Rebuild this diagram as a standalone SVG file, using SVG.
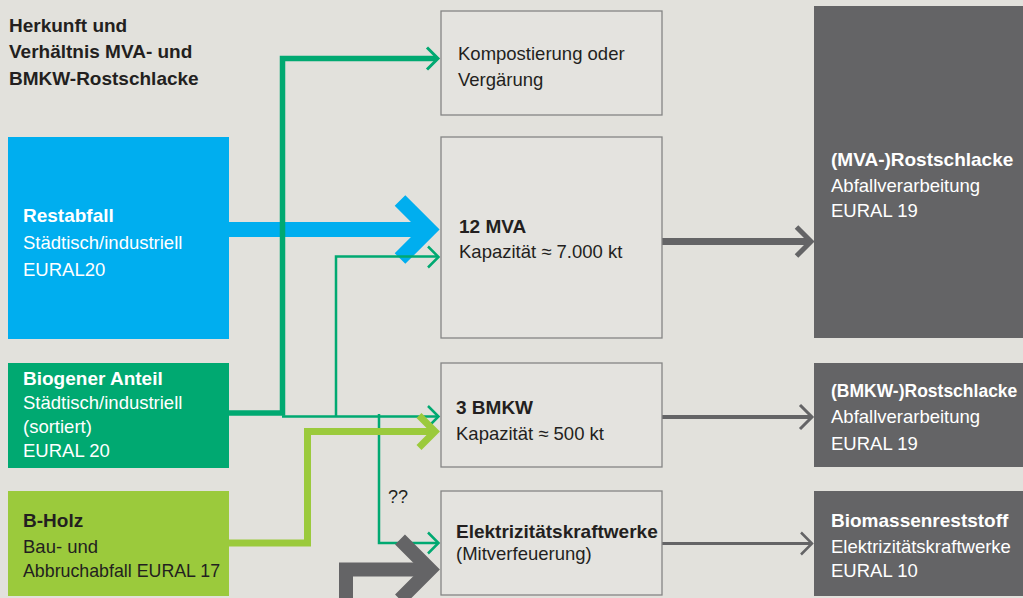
<svg xmlns="http://www.w3.org/2000/svg" width="1023" height="598" viewBox="0 0 1023 598">
<style>
text{font-family:"Liberation Sans",Arial,sans-serif;font-size:18.5px}
.b{font-weight:bold;font-size:19px}
.dk{fill:#231f20}
.wh{fill:#ffffff}
.mid{fill:#e4e3df;stroke:#858585;stroke-width:1.3}
.out{fill:#646466}
.ln{fill:none;stroke-linejoin:miter;stroke-linecap:butt}
</style>
<rect width="1023" height="598" fill="#e2e1dc"/>
<g id="title">
<text class="b dk" x="9" y="32">Herkunft und</text>
<text class="b dk" x="9" y="58">Verhältnis MVA- und</text>
<text class="b dk" x="9" y="85">BMKW-Rostschlacke</text>
</g>
<g id="connectors">
<path class="ln" d="M229 229.5H430" stroke="#00aeef" stroke-width="15"/>
<polyline class="ln" points="400,200.5 429,229.5 400,258.5" stroke="#00aeef" stroke-width="15"/>
<path class="ln" d="M229 413H282.5V58.5H437" stroke="#00a971" stroke-width="5.5"/>
<polyline class="ln" points="427,47.5 438,58.5 427,69.5" stroke="#00a971" stroke-width="3"/>
<path class="ln" d="M282 416.5H438M336 416.5V256.5H438M379 414V543H438" stroke="#00a971" stroke-width="2.5"/>
<polyline class="ln" points="428,246.5 438.5,257 428,267.5" stroke="#00a971" stroke-width="2.5"/>
<polyline class="ln" points="428,406 438.5,416.5 428,427" stroke="#00a971" stroke-width="2.5"/>
<polyline class="ln" points="428,532.5 438.5,543 428,553.5" stroke="#00a971" stroke-width="2.5"/>
<path class="ln" d="M229 543H307.5V431.5H434" stroke="#9bca3c" stroke-width="7"/>
<polyline class="ln" points="419,415.5 435,431.5 419,447.5" stroke="#9bca3c" stroke-width="7"/>
<path class="ln" d="M346 598V569.5H430" stroke="#646466" stroke-width="14"/>
<polyline class="ln" points="400,539.5 430,569.5 400,599.5" stroke="#646466" stroke-width="14"/>
<path d="M662 241.5H808" fill="none" stroke="#646466" stroke-width="7" stroke-linecap="round"/>
<polyline class="ln" points="796.5,227 811,241.5 796.5,256" stroke="#646466" stroke-width="5"/>
<path d="M662 417H810" fill="none" stroke="#646466" stroke-width="4"/>
<polyline class="ln" points="800,405 812,417 800,429" stroke="#646466" stroke-width="3"/>
<path d="M662 543.5H810" fill="none" stroke="#646466" stroke-width="3"/>
<polyline class="ln" points="801,532.5 812,543.5 801,554.5" stroke="#646466" stroke-width="2.5"/>
</g>
<text class="dk" x="388" y="503" style="font-size:18px">??</text>
<g id="restabfall">
<rect x="8" y="137" width="221" height="202" fill="#00aeef"/>
<text class="b wh" x="23" y="222">Restabfall</text>
<text class="wh" x="23" y="249">Städtisch/industriell</text>
<text class="wh" x="23" y="276">EURAL20</text>
</g>
<g id="biogen">
<rect x="8" y="363" width="221" height="105" fill="#00a971"/>
<text class="b wh" x="23" y="385">Biogener Anteil</text>
<text class="wh" x="23" y="409">Städtisch/industriell</text>
<text class="wh" x="23" y="433">(sortiert)</text>
<text class="wh" x="23" y="457">EURAL 20</text>
</g>
<g id="bholz">
<rect x="8" y="491" width="221" height="105" fill="#9bca3c"/>
<text class="b dk" x="23" y="527">B-Holz</text>
<text class="dk" x="23" y="553">Bau- und</text>
<text class="dk" x="23" y="577" style="font-size:17.8px">Abbruchabfall EURAL 17</text>
</g>
<g id="kompost">
<rect class="mid" x="441" y="11" width="221" height="104"/>
<text class="dk" x="458" y="60">Kompostierung oder</text>
<text class="dk" x="458" y="86">Vergärung</text>
</g>
<g id="mva">
<rect class="mid" x="441" y="137" width="221" height="201"/>
<text class="b dk" x="459" y="233">12 MVA</text>
<text class="dk" x="459" y="258">Kapazität ≈ 7.000 kt</text>
</g>
<g id="bmkw">
<rect class="mid" x="441" y="363" width="221" height="104"/>
<text class="b dk" x="456" y="414">3 BMKW</text>
<text class="dk" x="456" y="440">Kapazität ≈ 500 kt</text>
</g>
<g id="ekw">
<rect class="mid" x="441" y="491" width="221" height="104"/>
<text class="b dk" x="456" y="538">Elektrizitätskraftwerke</text>
<text class="dk" x="456" y="560">(Mitverfeuerung)</text>
</g>
<g id="mva-out">
<rect class="out" x="814" y="6" width="209" height="332"/>
<text class="b wh" x="831" y="166">(MVA-)Rostschlacke</text>
<text class="wh" x="831" y="192">Abfallverarbeitung</text>
<text class="wh" x="831" y="217">EURAL 19</text>
</g>
<g id="bmkw-out">
<rect class="out" x="814" y="363" width="209" height="104"/>
<text class="b wh" x="831" y="397" style="font-size:17.5px">(BMKW-)Rostschlacke</text>
<text class="wh" x="831" y="423">Abfallverarbeitung</text>
<text class="wh" x="831" y="450">EURAL 19</text>
</g>
<g id="ekw-out">
<rect class="out" x="814" y="491" width="209" height="105"/>
<text class="b wh" x="831" y="527">Biomassenreststoff</text>
<text class="wh" x="831" y="553">Elektrizitätskraftwerke</text>
<text class="wh" x="831" y="577">EURAL 10</text>
</g>
</svg>
